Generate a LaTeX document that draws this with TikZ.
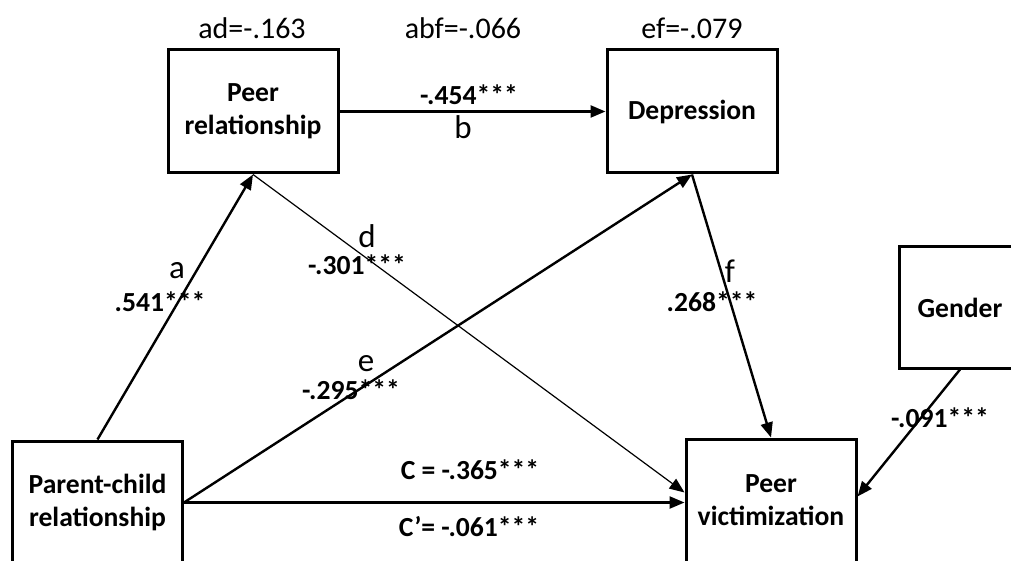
\documentclass[tikz,border=0pt]{standalone}
\usepackage{fontspec}
\setmainfont{Carlito}
\usepackage{tikz}
\usetikzlibrary{arrows.meta,positioning,calc}

\begin{document}
\begin{tikzpicture}[
  x=0.5pt, y=-0.5pt,
  box/.style={draw, line width=1.5pt, minimum width=85pt, minimum height=61.5pt,
              align=center, font=\fontsize{13.8}{16.5}\selectfont\bfseries},
  arr/.style={-{Triangle[length=7.5pt,width=6pt]}, line width=1.2pt},
  thinarr/.style={-{Triangle[length=7.5pt,width=6pt]}, line width=0.6pt},
  coef/.style={inner sep=0pt, font=\fontsize{13.8}{15}\selectfont\bfseries},
  path/.style={inner sep=0pt, font=\fontsize{16.5}{18}\selectfont},
  eff/.style={inner sep=0pt, font=\fontsize{15}{17}\selectfont}
]
  \useasboundingbox (0,0) rectangle (1011,561);

  \node[box] (pr)  at (253,111.5) {Peer\\relationship};
  \node[box] (dep) at (692,111.5) {Depression};
  \node[box, minimum width=61pt, minimum height=60.5pt] (gen) at (960,307.5) {Gender};
  \node[box] (pv)  at (771,500.5) {Peer\\victimization};
  \node[box] (pc)  at (97.5,502.5) {Parent-child\\relationship};

  \draw[arr] (pc.north) -- (pr.south);
  \draw[arr] (pr.east) -- (dep.west);
  \draw[thinarr] (pr.south) -- ([yshift=4pt]pv.west);
  \draw[arr] (pc.east) -- (dep.south);
  \draw[arr] (dep.south) -- (pv.north);
  \draw[arr] (gen.south) -- ([yshift=2pt]pv.east);
  \draw[arr] (pc.east) -- (pc.east -| pv.west);

  % indirect effects
  \node[eff] (ad)  at (252,28) {ad=-.163};
  \node[eff] (abf) at (463,28) {abf=-.066};
  \node[eff] (ef)  at (692,28) {ef=-.079};

  % path labels
  \node[coef] (cb) at (469,95)  {-.454***};
  \node[path] (lb) at (463,127) {b};
  \node[path] (la) at (177,271) {a};
  \node[coef] (ca) at (160,302) {.541***};
  \node[path] (ld) at (367,236) {d};
  \node[coef] (cd) at (357,265) {-.301***};
  \node[path] (le) at (366,364) {e};
  \node[coef] (ce) at (351,390) {-.295***};
  \node[path] (lf) at (730,271) {f};
  \node[coef] (cf) at (712,302) {.268***};
  \node[coef] (cg) at (940,418) {-.091***};
  \node[coef] (cc)  at (470,470) {C = -.365***};
  \node[coef] (ccp) at (469,527) {C’= -.061***};
\end{tikzpicture}
\end{document}
